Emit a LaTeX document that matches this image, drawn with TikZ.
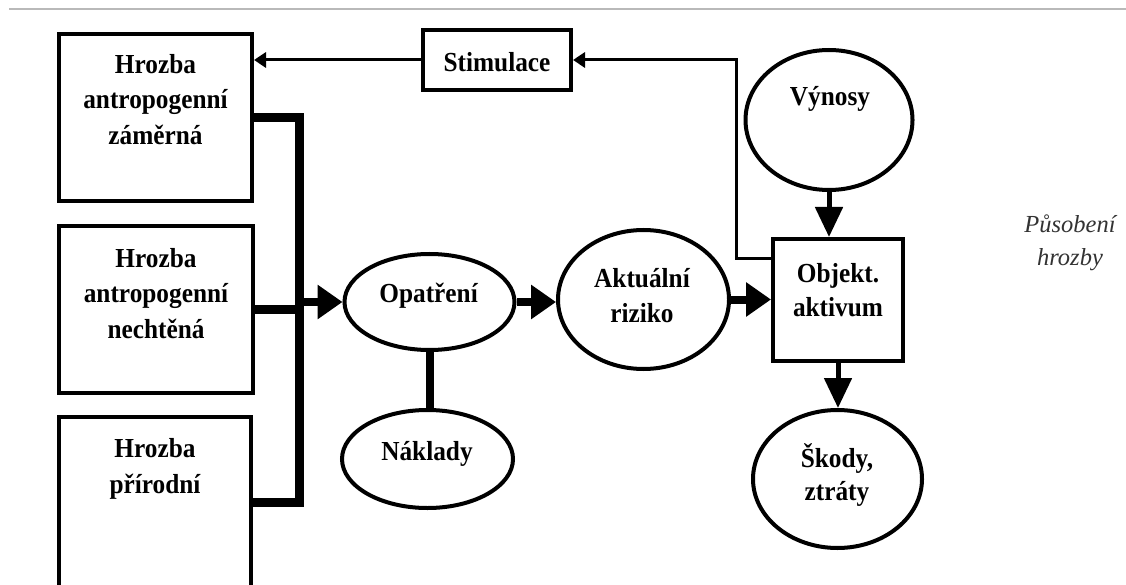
\documentclass[tikz,border=0pt]{standalone}
\usepackage{fontspec}
\setmainfont{Liberation Serif}
\newfontfamily\diafont[FakeStretch=0.92]{Liberation Serif}
\usetikzlibrary{arrows.meta,shapes.geometric}
\begin{document}
\begin{tikzpicture}[x=1pt,y=-1pt,
  box/.style={draw,line width=4pt,rectangle,inner sep=0pt},
  oval/.style={draw,line width=4pt,ellipse,inner sep=0pt},
  lbl/.style={font=\diafont\fontsize{27.5}{35.5}\selectfont\bfseries,align=center,inner sep=0pt},
  lbls/.style={font=\diafont\fontsize{27.5}{33.5}\selectfont\bfseries,align=center,inner sep=0pt},
  bigarrow/.style={line width=8pt,-{Triangle[length=25pt,width=33pt]}},
  midarrow/.style={line width=5pt,-{Triangle[length=30pt,width=27pt]}},
  thinarrow/.style={line width=3pt,-{Triangle[length=12pt,width=15pt]}},
  bar/.style={line width=9pt},
]
\useasboundingbox (0,0) rectangle (1126,585);
\clip (0,0) rectangle (1126,585);
\fill[white] (0,0) rectangle (1126,585);
\coordinate (rl) at (9,9);
\coordinate (rr) at (1126,9);
\draw[gray!55, line width=2pt] (rl) -- (rr);

% boxes
\node[box,minimum width=193pt,minimum height=167pt] (b1) at (155.5,117.5) {};
\node[box,minimum width=194pt,minimum height=167pt] (b2) at (156,309.5) {};
\node[box,minimum width=192pt,minimum height=171pt] (b3) at (155,502.5) {};
\node[box,minimum width=148pt,minimum height=60pt] (stim) at (497,60) {};
\node[box,minimum width=130pt,minimum height=122pt] (obj) at (838,300) {};
% ellipses
\node[oval,minimum width=167pt,minimum height=140pt] (vyn) at (829,120) {};
\node[oval,minimum width=169pt,minimum height=138pt] (skody) at (837.5,479) {};
\node[oval,minimum width=171pt,minimum height=139pt] (akt) at (643.5,299.5) {};
\node[oval,minimum width=170pt,minimum height=96pt] (opat) at (429.5,302) {};
\node[oval,minimum width=171pt,minimum height=98pt] (nakl) at (427.5,459) {};

% texts
\node[lbl,anchor=north] (t1) at (155.5,54) {Hrozba\\antropogenní\\záměrná};
\node[lbl,anchor=north] (t2) at (156,248) {Hrozba\\antropogenní\\nechtěná};
\node[lbl,anchor=north] (t3) at (155,438.5) {Hrozba\\přírodní};
\node[lbl,anchor=base] (tstim) at (497,71.5) {Stimulace};
\node[lbl,anchor=base] (tvyn) at (830,106) {Výnosy};
\node[lbls,anchor=north] (tobj) at (838,263.5) {Objekt.\\aktivum};
\node[lbl,anchor=north] (takt) at (642,268) {Aktuální\\riziko};
\node[lbl,anchor=base] (topat) at (428.6,302.7) {Opatření};
\node[lbl,anchor=base] (tnakl) at (427,460) {Náklady};
\node[lbls,anchor=north] (tsk) at (837,443) {Škody,\\ztráty};
\node[align=center,inner sep=0pt,anchor=north,font=\fontsize{24.5}{33}\selectfont\itshape,text=black!80] (tpus) at (1070,215) {Působení\\hrozby};

% connectors
\coordinate (j) at (299,303);
\draw[bar] (b1.east) -| (j) |- (b3.east);
\draw[bar] (b2.east) -- (b2.east -| j);
\draw[bigarrow] (j |- opat.west) -- (opat.west);
\draw[bigarrow] (opat.east) -- (opat.east -| akt.west);
\draw[bigarrow] (akt.east) -- (akt.east -| obj.west);
\draw[line width=8pt] (opat.south) -- (opat.south |- nakl.north);
\draw[midarrow] (vyn.south) -- (vyn.south |- obj.north);
\draw[midarrow] (obj.south) -- (obj.south |- skody.north);
\coordinate (fb) at (736,258);
\draw[thinarrow] (fb -| obj.west) -- (fb) |- (stim.east);
\draw[thinarrow] (stim.west) -- (stim.west -| b1.east);
\end{tikzpicture}
\end{document}
